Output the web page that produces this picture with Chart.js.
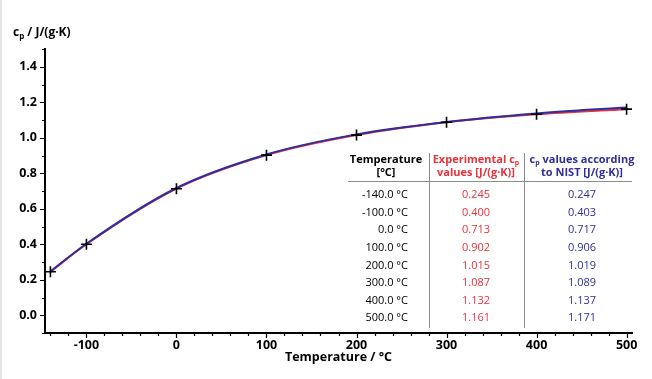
<!DOCTYPE html>
<html>
<head>
<meta charset="utf-8">
<script src="https://cdn.jsdelivr.net/npm/chart.js@4"></script>
<style>
  html, body { margin: 0; padding: 0; background: #fff; }
  #wrap { position: relative; width: 652px; height: 379px; overflow: hidden; font-family: "Open Sans", "Noto Sans", sans-serif; }
  #c { position: absolute; left: 0; top: 0; }
  .t { position: absolute; white-space: nowrap; line-height: 13px; font-size: 11px; pointer-events: none; }
  .t sub { font-size: 7px; vertical-align: -2px; line-height: 0; }
  .rule { position: absolute; background: #8c8c8c; }
  #ytitle { position: absolute; left: 13px; top: 25px; font-weight: bold; font-size: 12px; line-height: 14px; white-space: nowrap; color: #000; }
  #ytitle sub { font-size: 8px; vertical-align: -3px; line-height: 0; }
  #edge { position: absolute; left: 0; top: 0; width: 2px; height: 379px; background: #e6e6e6; }
</style>
</head>
<body>
<div id="wrap">
  <canvas id="c" width="652" height="379" style="width:652px;height:379px"></canvas>
  <div id="ytitle">c<sub>p</sub> / J/(g·K)</div>
  <div id="edge"></div>
</div>
<script>
// ---- data ----
const temps = [-140, -100, 0, 100, 200, 300, 400, 500];
const expCp = [0.245, 0.400, 0.713, 0.902, 1.015, 1.087, 1.132, 1.161];
const nistCp = [0.247, 0.403, 0.717, 0.906, 1.019, 1.089, 1.137, 1.171];
const tempLabels = ['-140.0 °C', '-100.0 °C', '0.0 °C', '100.0 °C', '200.0 °C', '300.0 °C', '400.0 °C', '500.0 °C'];
const xTickValues = [-100, 0, 100, 200, 300, 400, 500];
const yTickValues = [0.0, 0.2, 0.4, 0.6, 0.8, 1.0, 1.2, 1.4];
const headerTemp = ['Temperature', '[°C]'];
const headerExp = ['Experimental c<sub>p</sub>', 'values [J/(g·K)]'];
const headerNist = ['c<sub>p</sub> values according', 'to NIST [J/(g·K)]'];
const xTitle = 'Temperature / °C';

const RED = '#e8323c';
const BLUE = '#2e2e9c';
const FONT = "'Open Sans', 'Noto Sans', sans-serif";

const toXY = (ys) => temps.map((t, i) => ({ x: t, y: ys[i] }));

const minorTicks = {
  id: 'minorTicks',
  afterDraw(chart) {
    const ctx = chart.ctx, xs = chart.scales.x, ys = chart.scales.y;
    const a = chart.chartArea;
    ctx.save();
    ctx.strokeStyle = '#000';
    ctx.lineWidth = 1.2;
    ctx.beginPath();
    for (let v = -140; v <= 500; v += 20) {
      const px = Math.round(xs.getPixelForValue(v)) + 0.5;
      const len = (v % 100 === 0) ? 5 : 3;
      ctx.moveTo(px, a.bottom);
      ctx.lineTo(px, a.bottom + len);
    }
    for (let i = -1; i <= 15; i++) {
      const py = Math.round(ys.getPixelForValue(i / 10)) + 0.5;
      const len = (i % 2 === 0) ? 5 : 3;
      ctx.moveTo(a.left - len, py);
      ctx.lineTo(a.left, py);
    }
    ctx.stroke();
    ctx.restore();
  }
};

new Chart(document.getElementById('c'), {
  type: 'line',
  data: {
    datasets: [
      {
        label: 'markers',
        data: toXY(expCp),
        showLine: false,
        pointStyle: 'cross',
        pointRadius: 5.5,
        pointBorderWidth: 1.6,
        pointBorderColor: '#000',
        pointBackgroundColor: '#000',
        order: 0
      },
      {
        label: 'NIST',
        data: toXY(nistCp),
        borderColor: BLUE,
        borderWidth: 2,
        pointRadius: 0,
        cubicInterpolationMode: 'monotone',
        order: 1
      },
      {
        label: 'Experimental',
        data: toXY(expCp),
        borderColor: RED,
        borderWidth: 2,
        pointRadius: 0,
        cubicInterpolationMode: 'monotone',
        order: 2
      }
    ]
  },
  options: {
    responsive: false,
    animation: false,
    layout: { padding: { top: 49, right: 20, left: 0, bottom: 0 } },
    plugins: { legend: { display: false }, tooltip: { enabled: false } },
    scales: {
      x: {
        type: 'linear',
        min: -146,
        max: 506,
        afterFit(s) { s.height = 46; },
        afterBuildTicks(s) { s.ticks = xTickValues.map(v => ({ value: v })); },
        grid: { display: false, drawTicks: false },
        border: { display: true, color: '#000', width: 2 },
        ticks: {
          autoSkip: false,
          maxRotation: 0,
          padding: 5,
          color: '#000',
          font: { family: FONT, size: 12.5, weight: 'bold' },
          callback: (v) => String(v)
        },
        title: {
          display: true,
          text: xTitle,
          color: '#000',
          font: { family: FONT, size: 12.5, weight: 'bold' },
          padding: { top: 2, bottom: 14 }
        }
      },
      y: {
        type: 'linear',
        min: -0.1,
        max: 1.5,
        afterFit(s) { s.width = 45; },
        afterBuildTicks(s) { s.ticks = yTickValues.map(v => ({ value: v })); },
        grid: { display: false, drawTicks: false },
        border: { display: true, color: '#000', width: 2 },
        ticks: {
          autoSkip: false,
          padding: 8,
          color: '#000',
          font: { family: FONT, size: 12.5, weight: 'bold' },
          callback: (v) => Number(v).toFixed(1)
        }
      }
    }
  },
  plugins: [minorTicks]
});

// ---- table overlay (real text) ----
const wrap = document.getElementById('wrap');
function addText(html, x, cy, align, color, bold) {
  const d = document.createElement('div');
  d.className = 't';
  d.innerHTML = html;
  d.style.color = color;
  d.style.fontWeight = bold ? 'bold' : 'normal';
  d.style.top = (cy - 7) + 'px';
  if (align === 'right') {
    d.style.left = (x - 200) + 'px';
    d.style.width = '200px';
    d.style.textAlign = 'right';
  } else {
    d.style.left = (x - 100) + 'px';
    d.style.width = '200px';
    d.style.textAlign = 'center';
  }
  wrap.appendChild(d);
}
function addRule(x, y, w, h) {
  const d = document.createElement('div');
  d.className = 'rule';
  d.style.left = x + 'px'; d.style.top = y + 'px';
  d.style.width = w + 'px'; d.style.height = h + 'px';
  wrap.appendChild(d);
}
const colTemp = 386, colTempRight = 408, colExp = 476, colNist = 582;
const headY = [159, 172];
headerTemp.forEach((h, i) => addText(h, colTemp, headY[i], 'center', '#000', true));
headerExp.forEach((h, i) => addText(h, colExp, headY[i], 'center', RED, true));
headerNist.forEach((h, i) => addText(h, colNist, headY[i], 'center', BLUE, true));
const row0 = 194.3, rowStep = 17.57;
tempLabels.forEach((lbl, i) => {
  const cy = row0 + i * rowStep;
  addText(lbl, colTempRight, cy, 'right', '#000', false);
  addText(expCp[i].toFixed(3), colExp, cy, 'center', RED, false);
  addText(nistCp[i].toFixed(3), colNist, cy, 'center', BLUE, false);
});
addRule(348, 181, 284, 1);
addRule(429, 153, 1, 175);
addRule(524, 153, 1, 175);
</script>
</body>
</html>
